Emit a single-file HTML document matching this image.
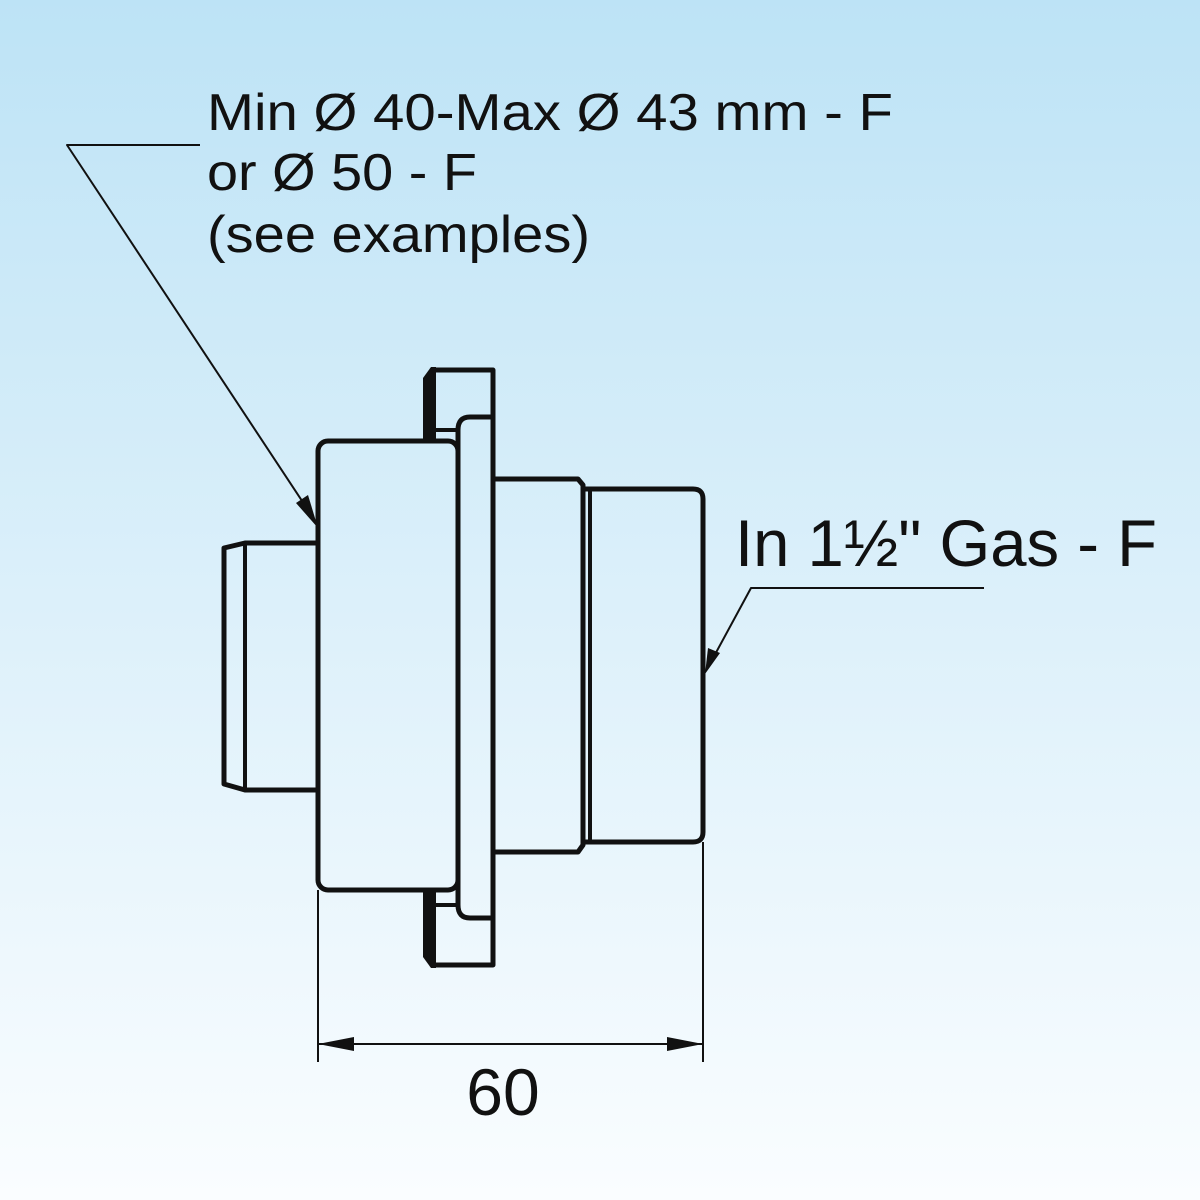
<!DOCTYPE html>
<html><head><meta charset="utf-8"><style>
html,body{margin:0;padding:0;width:1200px;height:1200px;overflow:hidden}
svg{display:block}
</style></head><body>
<svg width="1200" height="1200" viewBox="0 0 1200 1200" xmlns="http://www.w3.org/2000/svg">
<defs>
<linearGradient id="bg" x1="0" y1="0" x2="0" y2="1">
<stop offset="0" stop-color="#bde3f6"/>
<stop offset="0.5" stop-color="#dcf0fa"/>
<stop offset="1" stop-color="#fafdff"/>
</linearGradient>
</defs>
<rect width="1200" height="1200" fill="url(#bg)"/>
<g font-family="'Liberation Sans', sans-serif" fill="#111">
<text x="207" y="130" font-size="52" textLength="686" lengthAdjust="spacingAndGlyphs">Min Ø 40-Max Ø 43 mm - F</text>
<text x="207" y="190" font-size="52" textLength="270" lengthAdjust="spacingAndGlyphs">or Ø 50 - F</text>
<text x="207" y="252" font-size="52" textLength="383" lengthAdjust="spacingAndGlyphs">(see examples)</text>
<text x="735" y="566" font-size="66" textLength="422" lengthAdjust="spacingAndGlyphs">In 1½" Gas - F</text>
<text x="503" y="1115" font-size="66" text-anchor="middle">60</text>
</g>
<g fill="#111">
<polygon points="423,378 431,367 436,367 436,440 423,440"/>
<polygon points="423,890 436,890 436,968 431,968 423,957"/>
</g>
<g fill="none" stroke="#111" stroke-linejoin="round">
<polyline points="200,145 67,145 312,516" stroke-width="2"/>
<polyline points="984,588 751,588 712,660" stroke-width="2"/>
<path d="M318,543 L245,543 L224,548 L224,784 L245,790 L318,790" stroke-width="5"/>
<line x1="245" y1="543" x2="245" y2="790" stroke-width="4"/>
<path d="M432,440 L432,370 L493,370 L493,965 L432,965 L432,890" stroke-width="5"/>
<path d="M436,430 L458,430 M436,905 L458,905" stroke-width="4"/>
<path d="M493,417 L470,417 Q458,417 458,430 L458,905 Q458,918 470,918 L493,918" stroke-width="5"/>
<rect x="318" y="441" width="140" height="449" rx="10" stroke-width="5"/>
<path d="M493,479 L578,479 L583,485 L583,845 L578,852 L493,852" stroke-width="5"/>
<path d="M583,489 L693,489 Q703,489 703,499 L703,832 Q703,842 693,842 L583,842" stroke-width="5"/>
<line x1="590" y1="489" x2="590" y2="842" stroke-width="4"/>
<line x1="318" y1="890" x2="318" y2="1062" stroke-width="2"/>
<line x1="703" y1="842" x2="703" y2="1062" stroke-width="2"/>
<line x1="318" y1="1044" x2="703" y2="1044" stroke-width="2"/>
</g>
<g fill="#111">
<polygon points="318,1044 354,1037 354,1051"/>
<polygon points="703,1044 667,1037 667,1051"/>
<polygon points="318,528 296,503 308,495"/>
<polygon points="705,674 708,648 720,653"/>
</g>
</svg>
</body></html>
